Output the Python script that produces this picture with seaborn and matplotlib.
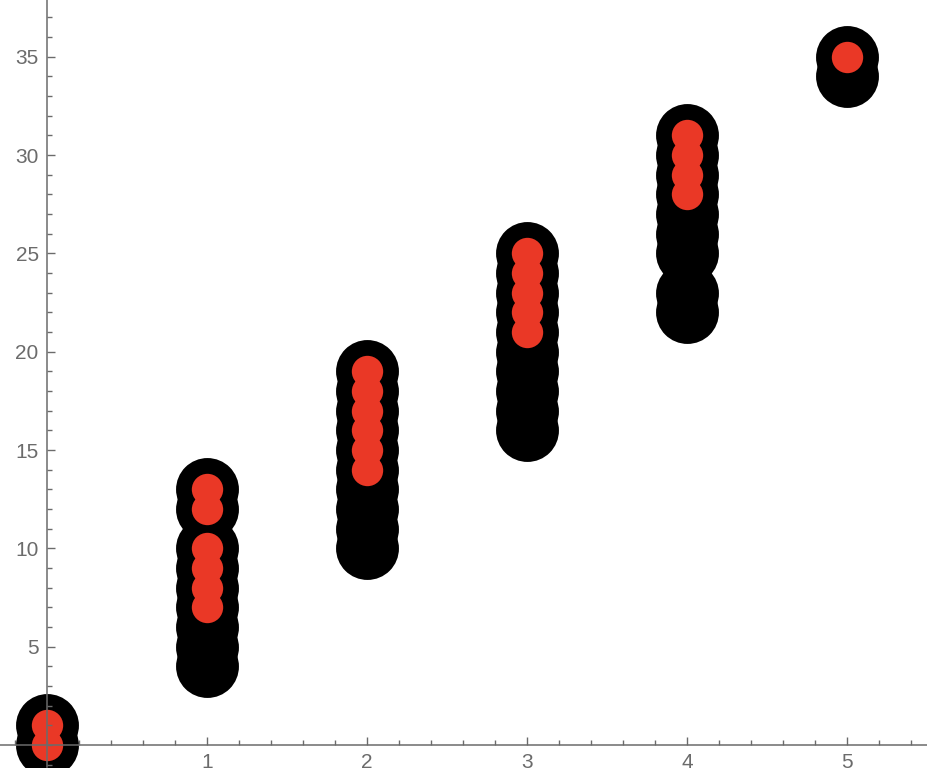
import matplotlib
matplotlib.use("Agg")
import matplotlib.pyplot as plt
from matplotlib.ticker import MultipleLocator, FixedLocator
import pandas as pd
import seaborn as sns

# column positions and the y values found in each column
x_vals = [0, 1, 2, 3, 4, 5]
black_sets = [
    [0, 1],
    [4, 5, 6, 7, 8, 9, 10, 12, 13],
    [10, 11, 12, 13, 14, 15, 16, 17, 18, 19],
    [16, 17, 18, 19, 20, 21, 22, 23, 24, 25],
    [22, 23, 25, 26, 27, 28, 29, 30, 31],
    [34, 35],
]
red_sets = [
    [0, 1],
    [7, 8, 9, 10, 12, 13],
    [14, 15, 16, 17, 18, 19],
    [21, 22, 23, 24, 25],
    [28, 29, 30, 31],
    [35],
]
x_ticks = [1, 2, 3, 4, 5]
y_ticks = [5, 10, 15, 20, 25, 30, 35]


def to_frame(sets):
    rows = [(x, y) for x, ys in zip(x_vals, sets) for y in ys]
    return pd.DataFrame(rows, columns=["x", "y"])


black_df = to_frame(black_sets)
red_df = to_frame(red_sets)

sns.set_style("white")
plt.rcParams["font.family"] = ["Liberation Sans", "DejaVu Sans"]

W, H = 928, 782
fig = plt.figure(figsize=(W / 100, H / 100), dpi=100)
bottom_px = 767
ax = fig.add_axes([0, (H - bottom_px) / H, 1, bottom_px / H])

sns.scatterplot(data=black_df, x="x", y="y", s=2050, color="black",
                linewidth=0, ax=ax, zorder=1)
sns.scatterplot(data=red_df, x="x", y="y", s=510, color="#EA3826",
                linewidth=0, ax=ax, zorder=2)

px_per_x = 160.0
px_per_y = 590 / 30
ax.set_xlim(-47 / px_per_x, (W - 47) / px_per_x)
ax.set_ylim(-(bottom_px - 745) / px_per_y, 745 / px_per_y)

grey = "#6b6b6b"
for side in ["top", "right"]:
    ax.spines[side].set_visible(False)
ax.spines["left"].set_position(("data", 0))
ax.spines["bottom"].set_position(("data", 0))
for side in ["left", "bottom"]:
    ax.spines[side].set_color(grey)
    ax.spines[side].set_linewidth(1.1)
    ax.spines[side].set_zorder(5)

ax.xaxis.set_major_locator(FixedLocator(x_ticks))
ax.yaxis.set_major_locator(FixedLocator(y_ticks))
ax.xaxis.set_minor_locator(MultipleLocator(0.2))
ax.yaxis.set_minor_locator(MultipleLocator(1))
ax.tick_params(which="both", bottom=True, left=True, direction="in",
               colors=grey, labelcolor=grey, width=1.0, labelsize=15)
ax.tick_params(which="major", length=6)
ax.tick_params(which="minor", length=3.5)
ax.tick_params(axis="x", pad=6)
ax.tick_params(axis="y", pad=6)
ax.set_axisbelow(False)
ax.set_xlabel("")
ax.set_ylabel("")

fig.savefig("out.png", dpi=100)
